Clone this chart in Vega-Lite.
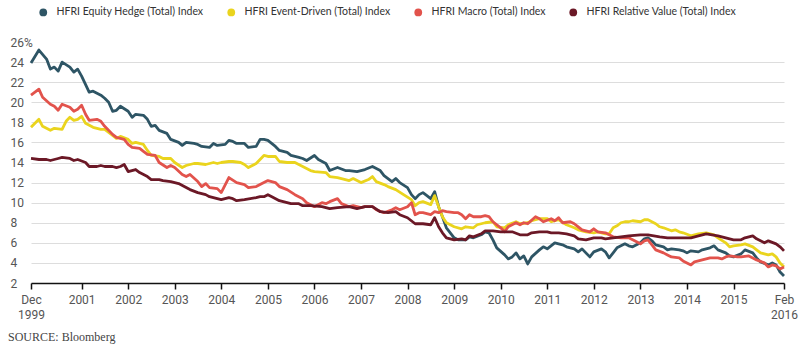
{
  "$schema": "https://vega.github.io/schema/vega-lite/v6.json",
  "width": 753,
  "height": 241,
  "autosize": "none",
  "padding": {"left": 31, "top": 42, "right": 21, "bottom": 67},
  "background": "white",
  "config": {"view": {"stroke": null}, "font": "Roboto"},
  "title": {"text": "SOURCE: Bloomberg", "orient": "bottom", "anchor": "start", "frame": "group", "offset": 12, "dx": -23, "font": "Liberation Serif", "fontSize": 12, "fontWeight": "normal", "color": "#444"},
  "datasets": {
    "equityHedge": [
      {"date":"1999-12-01","value":23.9},{"date":"2000-02-01","value":25.2},{"date":"2000-04-01","value":24.3},{"date":"2000-05-01","value":23.3},{"date":"2000-06-01","value":23.5},{"date":"2000-07-01","value":23.1},{"date":"2000-08-01","value":24.0},{"date":"2000-10-01","value":23.5},{"date":"2000-11-01","value":23.0},{"date":"2000-12-01","value":23.3},
      {"date":"2001-01-01","value":22.6},{"date":"2001-03-01","value":21.0},{"date":"2001-04-01","value":21.1},{"date":"2001-06-01","value":20.7},{"date":"2001-07-01","value":20.4},{"date":"2001-08-01","value":20.0},{"date":"2001-09-01","value":19.1},{"date":"2001-10-01","value":19.2},{"date":"2001-11-01","value":19.6},
      {"date":"2002-01-01","value":19.1},{"date":"2002-02-01","value":18.5},{"date":"2002-03-01","value":18.8},{"date":"2002-05-01","value":18.7},{"date":"2002-06-01","value":18.3},{"date":"2002-07-01","value":17.6},{"date":"2002-08-01","value":17.7},{"date":"2002-09-01","value":17.2},{"date":"2002-11-01","value":16.9},{"date":"2002-12-01","value":16.3},
      {"date":"2003-02-01","value":16.0},{"date":"2003-03-01","value":15.7},{"date":"2003-04-01","value":16.0},{"date":"2003-06-01","value":15.9},{"date":"2003-07-01","value":15.8},{"date":"2003-08-01","value":15.6},{"date":"2003-10-01","value":15.5},{"date":"2003-11-01","value":15.9},{"date":"2003-12-01","value":15.7},
      {"date":"2004-02-01","value":15.8},{"date":"2004-03-01","value":16.2},{"date":"2004-04-01","value":16.1},{"date":"2004-05-01","value":15.9},{"date":"2004-07-01","value":15.9},{"date":"2004-08-01","value":15.5},{"date":"2004-10-01","value":15.6},{"date":"2004-11-01","value":16.3},{"date":"2004-12-01","value":16.3},
      {"date":"2005-01-01","value":16.2},{"date":"2005-03-01","value":15.6},{"date":"2005-04-01","value":15.2},{"date":"2005-06-01","value":15.0},{"date":"2005-07-01","value":14.7},{"date":"2005-09-01","value":14.5},{"date":"2005-10-01","value":14.4},{"date":"2005-11-01","value":14.2},
      {"date":"2006-01-01","value":14.7},{"date":"2006-02-01","value":14.3},{"date":"2006-04-01","value":13.9},{"date":"2006-05-01","value":13.2},{"date":"2006-07-01","value":13.5},{"date":"2006-09-01","value":13.2},{"date":"2006-10-01","value":13.2},{"date":"2006-12-01","value":13.1},
      {"date":"2007-02-01","value":13.3},{"date":"2007-04-01","value":13.6},{"date":"2007-06-01","value":13.2},{"date":"2007-07-01","value":12.7},{"date":"2007-09-01","value":12.1},{"date":"2007-10-01","value":12.4},{"date":"2007-11-01","value":12.0},
      {"date":"2008-01-01","value":11.5},{"date":"2008-02-01","value":10.8},{"date":"2008-03-01","value":10.4},{"date":"2008-04-01","value":10.8},{"date":"2008-05-01","value":11.0},{"date":"2008-06-01","value":10.7},{"date":"2008-07-01","value":10.4},{"date":"2008-08-01","value":11.1},{"date":"2008-09-01","value":9.6},{"date":"2008-10-01","value":8.6},{"date":"2008-11-01","value":7.5},
      {"date":"2009-01-01","value":6.5},{"date":"2009-02-01","value":6.3},{"date":"2009-04-01","value":6.3},{"date":"2009-05-01","value":6.6},{"date":"2009-06-01","value":6.5},{"date":"2009-08-01","value":6.8},{"date":"2009-09-01","value":7.1},{"date":"2009-10-01","value":7.0},{"date":"2009-11-01","value":6.3},{"date":"2009-12-01","value":5.5},
      {"date":"2010-02-01","value":4.8},{"date":"2010-03-01","value":4.4},{"date":"2010-04-01","value":4.6},{"date":"2010-05-01","value":5.0},{"date":"2010-06-01","value":4.4},{"date":"2010-07-01","value":4.7},{"date":"2010-08-01","value":3.9},{"date":"2010-09-01","value":4.6},{"date":"2010-11-01","value":5.3},{"date":"2010-12-01","value":5.6},
      {"date":"2011-01-01","value":5.4},{"date":"2011-03-01","value":6.0},{"date":"2011-05-01","value":5.8},{"date":"2011-06-01","value":5.6},{"date":"2011-08-01","value":5.4},{"date":"2011-09-01","value":5.1},{"date":"2011-10-01","value":5.4},{"date":"2011-12-01","value":4.6},
      {"date":"2012-01-01","value":5.1},{"date":"2012-03-01","value":5.4},{"date":"2012-04-01","value":5.1},{"date":"2012-05-01","value":4.5},{"date":"2012-06-01","value":5.0},{"date":"2012-07-01","value":5.5},{"date":"2012-09-01","value":5.9},{"date":"2012-10-01","value":5.7},{"date":"2012-11-01","value":5.6},
      {"date":"2013-01-01","value":6.0},{"date":"2013-02-01","value":6.4},{"date":"2013-03-01","value":6.5},{"date":"2013-04-01","value":6.2},{"date":"2013-05-01","value":5.8},{"date":"2013-07-01","value":5.6},{"date":"2013-08-01","value":5.3},{"date":"2013-09-01","value":5.4},{"date":"2013-11-01","value":5.3},{"date":"2013-12-01","value":5.2},
      {"date":"2014-01-01","value":5.0},{"date":"2014-02-01","value":5.2},{"date":"2014-04-01","value":5.1},{"date":"2014-05-01","value":5.3},{"date":"2014-07-01","value":5.5},{"date":"2014-08-01","value":5.7},{"date":"2014-09-01","value":5.3},{"date":"2014-11-01","value":5.0},{"date":"2014-12-01","value":4.7},
      {"date":"2015-01-01","value":4.6},{"date":"2015-03-01","value":4.9},{"date":"2015-04-01","value":5.3},{"date":"2015-06-01","value":5.0},{"date":"2015-07-01","value":4.5},{"date":"2015-08-01","value":4.1},{"date":"2015-10-01","value":3.8},{"date":"2015-11-01","value":4.0},{"date":"2015-12-01","value":3.8},
      {"date":"2016-01-01","value":3.1},{"date":"2016-02-01","value":2.7}
    ],
    "eventDriven": [
      {"date":"1999-12-01","value":17.5},{"date":"2000-02-01","value":18.3},{"date":"2000-03-01","value":17.6},{"date":"2000-05-01","value":17.2},{"date":"2000-06-01","value":17.4},{"date":"2000-08-01","value":17.3},{"date":"2000-09-01","value":18.1},{"date":"2000-10-01","value":18.5},{"date":"2000-11-01","value":18.2},{"date":"2000-12-01","value":18.3},
      {"date":"2001-01-01","value":18.6},{"date":"2001-02-01","value":17.9},{"date":"2001-04-01","value":17.5},{"date":"2001-06-01","value":17.3},{"date":"2001-07-01","value":17.3},{"date":"2001-08-01","value":17.0},{"date":"2001-10-01","value":16.4},{"date":"2001-11-01","value":16.6},
      {"date":"2002-01-01","value":16.3},{"date":"2002-02-01","value":15.9},{"date":"2002-03-01","value":16.0},{"date":"2002-05-01","value":15.8},{"date":"2002-06-01","value":15.2},{"date":"2002-07-01","value":14.7},{"date":"2002-09-01","value":14.6},{"date":"2002-10-01","value":14.4},{"date":"2002-12-01","value":14.4},
      {"date":"2003-01-01","value":14.0},{"date":"2003-03-01","value":13.5},{"date":"2003-04-01","value":13.7},{"date":"2003-06-01","value":13.9},{"date":"2003-07-01","value":13.9},{"date":"2003-09-01","value":13.8},{"date":"2003-11-01","value":14.0},{"date":"2003-12-01","value":13.9},
      {"date":"2004-01-01","value":14.0},{"date":"2004-03-01","value":14.1},{"date":"2004-04-01","value":14.1},{"date":"2004-06-01","value":14.0},{"date":"2004-07-01","value":13.8},{"date":"2004-08-01","value":13.5},{"date":"2004-10-01","value":13.9},{"date":"2004-12-01","value":14.7},
      {"date":"2005-01-01","value":14.6},{"date":"2005-03-01","value":14.6},{"date":"2005-04-01","value":14.1},{"date":"2005-06-01","value":14.0},{"date":"2005-08-01","value":14.0},{"date":"2005-10-01","value":13.6},{"date":"2005-12-01","value":13.2},
      {"date":"2006-01-01","value":13.1},{"date":"2006-04-01","value":13.0},{"date":"2006-05-01","value":12.6},{"date":"2006-07-01","value":12.5},{"date":"2006-10-01","value":12.2},{"date":"2006-11-01","value":12.4},
      {"date":"2007-01-01","value":12.0},{"date":"2007-03-01","value":12.3},{"date":"2007-04-01","value":12.6},{"date":"2007-05-01","value":12.1},{"date":"2007-07-01","value":11.8},{"date":"2007-08-01","value":11.6},{"date":"2007-10-01","value":11.3},{"date":"2007-12-01","value":10.8},
      {"date":"2008-02-01","value":10.3},{"date":"2008-03-01","value":9.7},{"date":"2008-04-01","value":10.0},{"date":"2008-05-01","value":10.1},{"date":"2008-07-01","value":9.8},{"date":"2008-08-01","value":10.7},{"date":"2008-09-01","value":9.6},{"date":"2008-10-01","value":8.6},{"date":"2008-11-01","value":8.0},
      {"date":"2009-01-01","value":7.6},{"date":"2009-03-01","value":7.4},{"date":"2009-04-01","value":7.6},{"date":"2009-06-01","value":7.5},{"date":"2009-07-01","value":7.8},{"date":"2009-09-01","value":8.0},{"date":"2009-11-01","value":8.1},{"date":"2009-12-01","value":7.6},
      {"date":"2010-02-01","value":7.5},{"date":"2010-03-01","value":7.8},{"date":"2010-05-01","value":8.1},{"date":"2010-06-01","value":7.9},{"date":"2010-08-01","value":8.0},{"date":"2010-09-01","value":8.2},{"date":"2010-11-01","value":8.4},
      {"date":"2011-01-01","value":8.4},{"date":"2011-02-01","value":8.1},{"date":"2011-04-01","value":8.3},{"date":"2011-06-01","value":7.8},{"date":"2011-08-01","value":7.5},{"date":"2011-09-01","value":7.3},{"date":"2011-11-01","value":7.1},
      {"date":"2012-01-01","value":7.0},{"date":"2012-02-01","value":7.1},{"date":"2012-04-01","value":6.9},{"date":"2012-05-01","value":6.9},{"date":"2012-06-01","value":7.5},{"date":"2012-07-01","value":7.7},{"date":"2012-08-01","value":8.0},{"date":"2012-09-01","value":8.1},{"date":"2012-10-01","value":8.1},{"date":"2012-11-01","value":8.2},
      {"date":"2013-01-01","value":8.1},{"date":"2013-02-01","value":8.3},{"date":"2013-03-01","value":8.3},{"date":"2013-05-01","value":7.9},{"date":"2013-06-01","value":7.6},{"date":"2013-07-01","value":7.5},{"date":"2013-09-01","value":7.2},{"date":"2013-10-01","value":7.3},{"date":"2013-11-01","value":7.1},{"date":"2013-12-01","value":7.0},
      {"date":"2014-02-01","value":6.7},{"date":"2014-03-01","value":6.8},{"date":"2014-04-01","value":6.9},{"date":"2014-06-01","value":7.0},{"date":"2014-07-01","value":6.9},{"date":"2014-08-01","value":6.8},{"date":"2014-09-01","value":6.5},{"date":"2014-11-01","value":6.0},{"date":"2014-12-01","value":5.6},
      {"date":"2015-01-01","value":5.7},{"date":"2015-03-01","value":5.8},{"date":"2015-04-01","value":5.9},{"date":"2015-06-01","value":5.6},{"date":"2015-07-01","value":5.3},{"date":"2015-08-01","value":5.0},{"date":"2015-10-01","value":4.8},{"date":"2015-11-01","value":4.9},{"date":"2015-12-01","value":4.6},
      {"date":"2016-01-01","value":4.0},{"date":"2016-02-01","value":3.6}
    ],
    "macro": [
      {"date":"1999-12-01","value":20.7},{"date":"2000-02-01","value":21.3},{"date":"2000-03-01","value":20.5},{"date":"2000-05-01","value":19.8},{"date":"2000-06-01","value":19.6},{"date":"2000-07-01","value":19.2},{"date":"2000-08-01","value":19.8},{"date":"2000-10-01","value":19.5},{"date":"2000-11-01","value":19.1},{"date":"2000-12-01","value":19.3},
      {"date":"2001-01-01","value":19.7},{"date":"2001-02-01","value":18.8},{"date":"2001-03-01","value":18.2},{"date":"2001-05-01","value":18.3},{"date":"2001-06-01","value":18.1},{"date":"2001-07-01","value":17.6},{"date":"2001-09-01","value":16.8},{"date":"2001-10-01","value":16.5},{"date":"2001-12-01","value":16.3},
      {"date":"2002-01-01","value":15.8},{"date":"2002-02-01","value":15.5},{"date":"2002-04-01","value":15.4},{"date":"2002-05-01","value":15.1},{"date":"2002-06-01","value":14.8},{"date":"2002-08-01","value":14.7},{"date":"2002-09-01","value":14.0},{"date":"2002-11-01","value":13.5},{"date":"2002-12-01","value":13.7},
      {"date":"2003-01-01","value":13.5},{"date":"2003-03-01","value":12.8},{"date":"2003-04-01","value":12.6},{"date":"2003-05-01","value":12.8},{"date":"2003-07-01","value":12.1},{"date":"2003-08-01","value":11.6},{"date":"2003-09-01","value":11.9},{"date":"2003-10-01","value":11.5},{"date":"2003-12-01","value":11.4},
      {"date":"2004-01-01","value":11.0},{"date":"2004-03-01","value":12.5},{"date":"2004-05-01","value":12.0},{"date":"2004-07-01","value":11.8},{"date":"2004-08-01","value":11.5},{"date":"2004-10-01","value":11.6},{"date":"2004-12-01","value":12.0},
      {"date":"2005-01-01","value":12.2},{"date":"2005-03-01","value":12.0},{"date":"2005-04-01","value":11.6},{"date":"2005-06-01","value":11.3},{"date":"2005-08-01","value":10.8},{"date":"2005-10-01","value":10.4},{"date":"2005-11-01","value":10.0},
      {"date":"2006-01-01","value":9.6},{"date":"2006-03-01","value":10.0},{"date":"2006-04-01","value":9.9},{"date":"2006-05-01","value":10.1},{"date":"2006-07-01","value":10.4},{"date":"2006-08-01","value":9.9},{"date":"2006-10-01","value":9.6},{"date":"2006-11-01","value":9.7},
      {"date":"2007-01-01","value":9.5},{"date":"2007-02-01","value":9.6},{"date":"2007-04-01","value":9.6},{"date":"2007-05-01","value":9.3},{"date":"2007-07-01","value":9.0},{"date":"2007-09-01","value":9.3},{"date":"2007-10-01","value":9.5},{"date":"2007-11-01","value":9.3},
      {"date":"2008-01-01","value":9.6},{"date":"2008-02-01","value":10.0},{"date":"2008-03-01","value":8.8},{"date":"2008-04-01","value":9.0},{"date":"2008-05-01","value":9.0},{"date":"2008-07-01","value":8.8},{"date":"2008-08-01","value":9.1},{"date":"2008-09-01","value":9.0},{"date":"2008-10-01","value":9.2},{"date":"2008-11-01","value":9.1},
      {"date":"2009-01-01","value":9.0},{"date":"2009-02-01","value":9.0},{"date":"2009-03-01","value":8.8},{"date":"2009-04-01","value":8.4},{"date":"2009-05-01","value":8.8},{"date":"2009-06-01","value":8.6},{"date":"2009-08-01","value":8.6},{"date":"2009-09-01","value":8.7},{"date":"2009-10-01","value":8.6},{"date":"2009-11-01","value":8.1},
      {"date":"2010-01-01","value":7.5},{"date":"2010-02-01","value":7.1},{"date":"2010-03-01","value":7.6},{"date":"2010-05-01","value":8.0},{"date":"2010-06-01","value":7.8},{"date":"2010-07-01","value":8.0},{"date":"2010-08-01","value":7.9},{"date":"2010-10-01","value":8.6},{"date":"2010-11-01","value":8.4},{"date":"2010-12-01","value":8.1},
      {"date":"2011-02-01","value":8.4},{"date":"2011-03-01","value":8.2},{"date":"2011-04-01","value":8.5},{"date":"2011-05-01","value":8.0},{"date":"2011-07-01","value":8.1},{"date":"2011-08-01","value":7.9},{"date":"2011-09-01","value":7.6},{"date":"2011-10-01","value":7.3},{"date":"2011-12-01","value":7.1},
      {"date":"2012-01-01","value":7.4},{"date":"2012-02-01","value":7.1},{"date":"2012-04-01","value":7.0},{"date":"2012-05-01","value":6.8},{"date":"2012-06-01","value":6.6},{"date":"2012-08-01","value":6.5},{"date":"2012-09-01","value":6.5},{"date":"2012-10-01","value":6.5},{"date":"2012-11-01","value":6.3},
      {"date":"2013-01-01","value":5.9},{"date":"2013-02-01","value":6.2},{"date":"2013-03-01","value":6.3},{"date":"2013-04-01","value":5.8},{"date":"2013-05-01","value":5.3},{"date":"2013-07-01","value":5.0},{"date":"2013-08-01","value":4.8},{"date":"2013-09-01","value":4.6},{"date":"2013-11-01","value":4.5},{"date":"2013-12-01","value":4.2},
      {"date":"2014-01-01","value":4.0},{"date":"2014-02-01","value":3.8},{"date":"2014-03-01","value":4.1},{"date":"2014-05-01","value":4.3},{"date":"2014-06-01","value":4.4},{"date":"2014-07-01","value":4.5},{"date":"2014-09-01","value":4.5},{"date":"2014-10-01","value":4.4},{"date":"2014-11-01","value":4.6},{"date":"2014-12-01","value":4.7},
      {"date":"2015-02-01","value":4.6},{"date":"2015-03-01","value":4.6},{"date":"2015-05-01","value":4.7},{"date":"2015-06-01","value":4.5},{"date":"2015-07-01","value":4.3},{"date":"2015-09-01","value":4.0},{"date":"2015-10-01","value":3.6},{"date":"2015-11-01","value":3.8},{"date":"2015-12-01","value":3.7},
      {"date":"2016-01-01","value":3.4},{"date":"2016-02-01","value":3.6}
    ],
    "relativeValue": [
      {"date":"1999-12-01","value":14.4},{"date":"2000-02-01","value":14.3},{"date":"2000-04-01","value":14.3},{"date":"2000-05-01","value":14.2},{"date":"2000-07-01","value":14.4},{"date":"2000-08-01","value":14.5},{"date":"2000-10-01","value":14.4},{"date":"2000-11-01","value":14.2},{"date":"2000-12-01","value":14.3},
      {"date":"2001-02-01","value":14.0},{"date":"2001-03-01","value":13.6},{"date":"2001-05-01","value":13.6},{"date":"2001-06-01","value":13.7},{"date":"2001-07-01","value":13.6},{"date":"2001-09-01","value":13.6},{"date":"2001-10-01","value":13.5},{"date":"2001-11-01","value":13.6},{"date":"2001-12-01","value":13.8},
      {"date":"2002-01-01","value":13.1},{"date":"2002-03-01","value":13.3},{"date":"2002-04-01","value":13.0},{"date":"2002-06-01","value":12.6},{"date":"2002-07-01","value":12.3},{"date":"2002-09-01","value":12.3},{"date":"2002-10-01","value":12.2},{"date":"2002-12-01","value":12.1},
      {"date":"2003-02-01","value":11.9},{"date":"2003-04-01","value":11.5},{"date":"2003-05-01","value":11.3},{"date":"2003-07-01","value":11.0},{"date":"2003-09-01","value":10.8},{"date":"2003-10-01","value":10.6},{"date":"2003-12-01","value":10.4},
      {"date":"2004-01-01","value":10.3},{"date":"2004-03-01","value":10.5},{"date":"2004-04-01","value":10.4},{"date":"2004-05-01","value":10.2},{"date":"2004-07-01","value":10.3},{"date":"2004-10-01","value":10.5},{"date":"2004-11-01","value":10.6},{"date":"2004-12-01","value":10.6},
      {"date":"2005-01-01","value":10.8},{"date":"2005-02-01","value":10.6},{"date":"2005-04-01","value":10.2},{"date":"2005-07-01","value":9.9},{"date":"2005-09-01","value":9.9},{"date":"2005-10-01","value":9.7},{"date":"2005-12-01","value":9.7},
      {"date":"2006-03-01","value":9.6},{"date":"2006-05-01","value":9.4},{"date":"2006-07-01","value":9.5},{"date":"2006-10-01","value":9.6},{"date":"2006-12-01","value":9.4},
      {"date":"2007-02-01","value":9.6},{"date":"2007-04-01","value":9.6},{"date":"2007-06-01","value":9.1},{"date":"2007-08-01","value":9.0},{"date":"2007-10-01","value":9.1},{"date":"2007-11-01","value":8.8},
      {"date":"2008-01-01","value":8.5},{"date":"2008-03-01","value":7.9},{"date":"2008-04-01","value":7.9},{"date":"2008-05-01","value":7.9},{"date":"2008-07-01","value":7.8},{"date":"2008-08-01","value":8.5},{"date":"2008-09-01","value":7.6},{"date":"2008-10-01","value":7.0},{"date":"2008-11-01","value":6.5},
      {"date":"2009-01-01","value":6.3},{"date":"2009-03-01","value":6.4},{"date":"2009-04-01","value":6.3},{"date":"2009-05-01","value":6.7},{"date":"2009-06-01","value":6.6},{"date":"2009-08-01","value":6.9},{"date":"2009-09-01","value":7.2},{"date":"2009-11-01","value":7.2},
      {"date":"2010-01-01","value":7.1},{"date":"2010-02-01","value":7.1},{"date":"2010-04-01","value":7.1},{"date":"2010-06-01","value":6.8},{"date":"2010-08-01","value":6.8},{"date":"2010-09-01","value":7.0},{"date":"2010-11-01","value":7.1},
      {"date":"2011-01-01","value":7.1},{"date":"2011-02-01","value":7.0},{"date":"2011-04-01","value":7.0},{"date":"2011-06-01","value":6.9},{"date":"2011-08-01","value":6.7},{"date":"2011-09-01","value":6.4},{"date":"2011-11-01","value":6.3},
      {"date":"2012-01-01","value":6.5},{"date":"2012-03-01","value":6.5},{"date":"2012-04-01","value":6.4},{"date":"2012-06-01","value":6.5},{"date":"2012-08-01","value":6.6},{"date":"2012-10-01","value":6.7},
      {"date":"2013-01-01","value":6.8},{"date":"2013-03-01","value":6.8},{"date":"2013-06-01","value":6.6},{"date":"2013-08-01","value":6.5},{"date":"2013-11-01","value":6.5},
      {"date":"2014-02-01","value":6.5},{"date":"2014-04-01","value":6.7},{"date":"2014-06-01","value":6.9},{"date":"2014-09-01","value":6.7},{"date":"2014-11-01","value":6.5},
      {"date":"2015-01-01","value":6.3},{"date":"2015-03-01","value":6.3},{"date":"2015-04-01","value":6.5},{"date":"2015-06-01","value":6.7},{"date":"2015-07-01","value":6.4},{"date":"2015-09-01","value":6.0},{"date":"2015-10-01","value":6.2},{"date":"2015-12-01","value":5.9},
      {"date":"2016-01-01","value":5.6},{"date":"2016-02-01","value":5.2}
    ]
  },
  "encoding": {
    "x": {
      "field": "date", "type": "temporal",
      "scale": {"type": "utc", "domain": [{"year": 1999, "month": 12, "date": 1, "utc": true}, {"year": 2016, "month": 2, "date": 1, "utc": true}]},
      "axis": {
        "title": null, "grid": false,
        "values": [
          {"year": 1999, "month": 12, "date": 1, "utc": true},
          {"year": 2001, "month": 1, "date": 1, "utc": true},
          {"year": 2002, "month": 1, "date": 1, "utc": true},
          {"year": 2003, "month": 1, "date": 1, "utc": true},
          {"year": 2004, "month": 1, "date": 1, "utc": true},
          {"year": 2005, "month": 1, "date": 1, "utc": true},
          {"year": 2006, "month": 1, "date": 1, "utc": true},
          {"year": 2007, "month": 1, "date": 1, "utc": true},
          {"year": 2008, "month": 1, "date": 1, "utc": true},
          {"year": 2009, "month": 1, "date": 1, "utc": true},
          {"year": 2010, "month": 1, "date": 1, "utc": true},
          {"year": 2011, "month": 1, "date": 1, "utc": true},
          {"year": 2012, "month": 1, "date": 1, "utc": true},
          {"year": 2013, "month": 1, "date": 1, "utc": true},
          {"year": 2014, "month": 1, "date": 1, "utc": true},
          {"year": 2015, "month": 1, "date": 1, "utc": true},
          {"year": 2016, "month": 2, "date": 1, "utc": true}
        ],
        "labelExpr": "utcmonth(datum.value) == 0 ? utcFormat(datum.value, '%Y') : [utcFormat(datum.value, '%b'), utcFormat(datum.value, '%Y')]",
        "domainColor": "#111", "domainWidth": 1.5, "tickColor": "#111", "tickWidth": 1.5, "tickSize": 6,
        "labelFont": "Roboto", "labelFontSize": 12, "labelColor": "#555", "labelPadding": 5, "labelLineHeight": 15,
        "labelOverlap": false, "labelFlush": false
      }
    },
    "y": {
      "field": "value", "type": "quantitative",
      "scale": {"domain": [2, 26], "nice": false, "zero": false},
      "axis": {
        "title": null, "domain": false, "ticks": false, "tickSize": 0,
        "values": [2, 4, 6, 8, 10, 12, 14, 16, 18, 20, 22, 24, 26],
        "labelExpr": "datum.value == 26 ? '26%' : datum.label",
        "labelAlign": "left", "labelPadding": 21,
        "labelFont": "Roboto", "labelFontSize": 12, "labelColor": "#555",
        "gridColor": "#dddddd", "gridWidth": 1,
        "gridOpacity": {"condition": {"test": "datum.value == 26 || datum.value == 2", "value": 0}, "value": 1}
      }
    }
  },
  "layer": [
    {
      "data": {"name": "equityHedge"},
      "mark": {"type": "line", "strokeWidth": 2.8, "strokeJoin": "round"},
      "encoding": {
        "color": {
          "datum": "HFRI Equity Hedge (Total) Index", "type": "nominal",
          "scale": {
            "domain": ["HFRI Equity Hedge (Total) Index", "HFRI Event-Driven (Total) Index", "HFRI Macro (Total) Index", "HFRI Relative Value (Total) Index"],
            "range": ["#2e5565", "#ead41e", "#e2534c", "#6b1826"]
          },
          "legend": {
            "title": null, "orient": "none", "direction": "horizontal", "legendX": 7, "legendY": -35,
            "symbolType": "circle", "symbolSize": 60, "symbolStrokeWidth": 0,
            "labelFont": "Lato", "labelFontSize": 10.5, "labelColor": "#333", "labelOffset": 8, "labelLimit": 400,
            "columnPadding": 22, "padding": 0,
            "encode": {"symbols": {"update": {"fill": {"scale": "color", "field": "value"}, "fillOpacity": {"value": 1}, "strokeWidth": {"value": 0}}}}
          }
        }
      }
    },
    {
      "data": {"name": "eventDriven"},
      "mark": {"type": "line", "strokeWidth": 2.8, "strokeJoin": "round"},
      "encoding": {"color": {"datum": "HFRI Event-Driven (Total) Index", "type": "nominal"}}
    },
    {
      "data": {"name": "macro"},
      "mark": {"type": "line", "strokeWidth": 2.8, "strokeJoin": "round"},
      "encoding": {"color": {"datum": "HFRI Macro (Total) Index", "type": "nominal"}}
    },
    {
      "data": {"name": "relativeValue"},
      "mark": {"type": "line", "strokeWidth": 2.8, "strokeJoin": "round"},
      "encoding": {"color": {"datum": "HFRI Relative Value (Total) Index", "type": "nominal"}}
    }
  ]
}
